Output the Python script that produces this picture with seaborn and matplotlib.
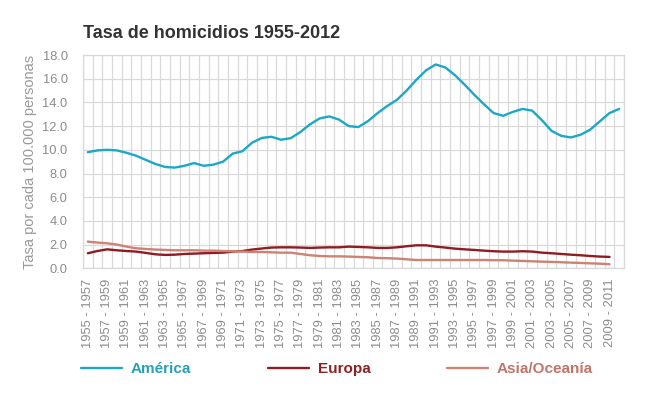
import pandas as pd
import matplotlib.pyplot as plt
import seaborn as sns

# periodos trienales (etiqueta = primer y ultimo año)
anios = list(range(1955, 2011))
periodos = [f"{a} - {a + 2}" for a in anios]

america = [9.8, 9.95, 10.0, 9.95, 9.75, 9.5, 9.15, 8.8, 8.55, 8.5,
           8.65, 8.88, 8.65, 8.75, 9.0, 9.68, 9.88, 10.6, 11.0, 11.1,
           10.85, 10.98, 11.5, 12.15, 12.65, 12.82, 12.55, 12.0, 11.92, 12.42,
           13.1, 13.7, 14.22, 15.0, 15.9, 16.7, 17.2, 16.95, 16.3, 15.5,
           14.65, 13.85, 13.1, 12.87, 13.2, 13.45, 13.3, 12.5, 11.6, 11.18,
           11.04, 11.27, 11.7, 12.4, 13.1, 13.45]
europa = [1.27, 1.46, 1.6, 1.52, 1.46, 1.41, 1.3, 1.18, 1.13, 1.15,
          1.21, 1.24, 1.27, 1.3, 1.32, 1.41, 1.46, 1.58, 1.67, 1.75,
          1.77, 1.77, 1.75, 1.72, 1.75, 1.77, 1.77, 1.83, 1.8, 1.77,
          1.72, 1.72, 1.77, 1.86, 1.94, 1.94, 1.83, 1.75, 1.66, 1.6,
          1.55, 1.49, 1.44, 1.41, 1.41, 1.44, 1.41, 1.32, 1.27, 1.21,
          1.15, 1.1, 1.04, 0.99, 0.96]
asia = [2.25, 2.17, 2.11, 2.0, 1.83, 1.69, 1.63, 1.58, 1.55, 1.52,
        1.52, 1.52, 1.49, 1.49, 1.46, 1.44, 1.41, 1.38, 1.38, 1.35,
        1.32, 1.32, 1.21, 1.1, 1.04, 1.01, 1.01, 0.99, 0.96, 0.93,
        0.87, 0.85, 0.82, 0.76, 0.7, 0.7, 0.7, 0.7, 0.7, 0.7,
        0.7, 0.7, 0.68, 0.68, 0.65, 0.62, 0.59, 0.56, 0.54, 0.51,
        0.48, 0.45, 0.42, 0.39, 0.34]

regiones = ["América", "Europa", "Asia/Oceanía"]
colores = {"América": "#1ba8c6", "Europa": "#8e1c22", "Asia/Oceanía": "#cc8274"}
colores_texto = {"América": "#2a9fb5", "Europa": "#8b2325", "Asia/Oceanía": "#c0746a"}


def build_df():
    partes = []
    for nombre, vals in zip(regiones, [america, europa, asia]):
        partes.append(pd.DataFrame({"pos": range(len(vals)), "tasa": vals, "region": nombre}))
    return pd.concat(partes, ignore_index=True)


def main():
    df = build_df()

    sns.set_style("white")
    plt.rcParams["font.family"] = ["Liberation Sans", "DejaVu Sans"]

    fig = plt.figure(figsize=(6.45, 3.96), dpi=100)
    ax = fig.add_axes([83 / 645, 1 - 268.3 / 396, (624 - 83) / 645, (268.3 - 55) / 396])

    sns.lineplot(data=df, x="pos", y="tasa", hue="region", hue_order=regiones,
                 palette=colores, linewidth=1.7, ax=ax, legend=False)

    n = len(periodos)
    ax.set_xlim(-0.5, n - 0.5)
    ax.set_ylim(0, 18)
    ax.set_yticks([i * 2 for i in range(10)])
    ax.set_yticklabels([f"{i * 2:.1f}" for i in range(10)])
    ax.set_xticks(range(0, n, 2))
    ax.set_xticklabels(periodos[::2], rotation=90)
    ax.set_xticks([i - 0.5 for i in range(n + 1)], minor=True)

    ax.grid(False)
    ax.grid(True, which="minor", axis="x", color="#d9d9d9", linewidth=0.9)
    ax.grid(True, which="major", axis="y", color="#d9d9d9", linewidth=0.9)
    ax.set_axisbelow(True)
    for s in ax.spines.values():
        s.set_color("#d9d9d9")
        s.set_linewidth(0.9)

    ax.tick_params(axis="both", which="both", length=0, colors="#8c8c8c", labelsize=9.3)
    ax.tick_params(axis="y", pad=11)
    ax.tick_params(axis="x", pad=7.5)

    ax.set_xlabel("")
    ax.set_ylabel("Tasa por cada 100.000 personas", color="#999999", fontsize=10.5, labelpad=4)

    fig.text(83 / 645, 1 - 33 / 396, "Tasa de homicidios 1955-2012", fontsize=13,
             fontweight="bold", color="#333333", va="center", ha="left")

    handles = [plt.Line2D([], [], color=colores[r], linewidth=1.7) for r in regiones]
    leg = fig.legend(handles, regiones, ncol=3, loc="center left",
                     bbox_to_anchor=(81 / 645, 1 - 369 / 396), frameon=False,
                     handlelength=2.68, handletextpad=0.59, columnspacing=5.0,
                     borderpad=0, borderaxespad=0,
                     prop={"size": 11, "weight": "bold"})
    for t in leg.get_texts():
        t.set_color(colores_texto[t.get_text()])

    fig.savefig("out.png", dpi=100)


if __name__ == "__main__":
    main()
